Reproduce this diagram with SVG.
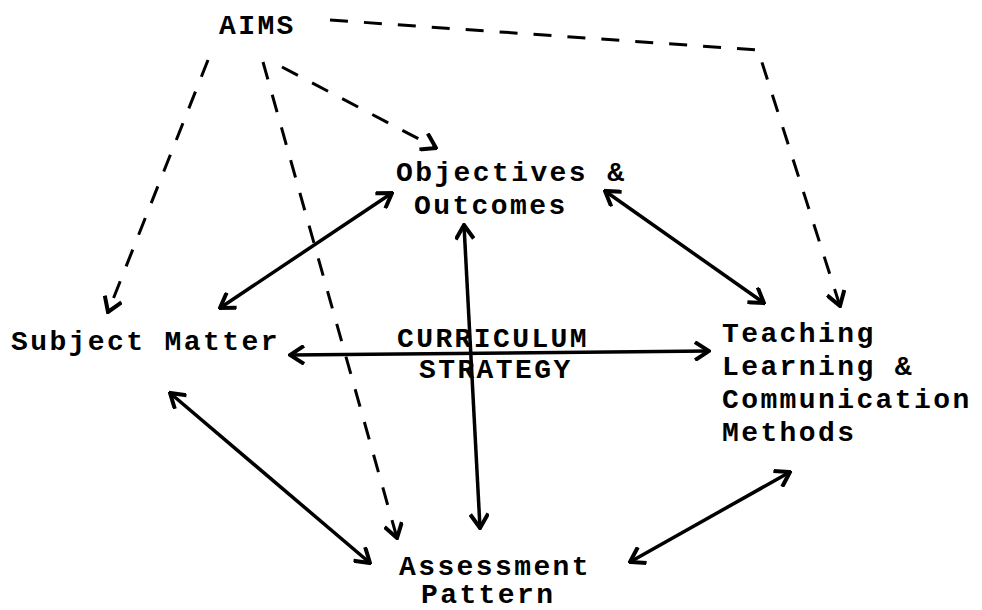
<svg xmlns="http://www.w3.org/2000/svg" width="982" height="610" viewBox="0 0 982 610">
<defs>
<style>
.lbl{font-family:"Liberation Mono","Courier New",monospace;font-weight:bold;font-size:28px;letter-spacing:2.4px;fill:#000}
.solid{stroke:#000;stroke-width:3.5;fill:none}
.dash{stroke:#000;stroke-width:3;fill:none;stroke-dasharray:18 16}
</style>
<marker id="ah" viewBox="0 0 20 20" refX="18" refY="10" markerWidth="20" markerHeight="20" markerUnits="userSpaceOnUse" orient="auto-start-reverse">
<path d="M4,1 L18,10 L4,19" fill="none" stroke="#000" stroke-width="4" stroke-linejoin="miter"/>
</marker>
</defs>
<rect width="982" height="610" fill="#fff"/>
<g id="connectors">
<line class="dash" x1="208" y1="60" x2="108" y2="312" marker-end="url(#ah)"/>
<line class="dash" x1="282" y1="67" x2="436" y2="148" marker-end="url(#ah)"/>
<line class="dash" x1="263" y1="62" x2="397" y2="538" marker-end="url(#ah)"/>
<polyline class="dash" points="330,20 758,50 840,306" marker-end="url(#ah)"/>
<line class="solid" x1="392" y1="193" x2="220" y2="308" marker-start="url(#ah)" marker-end="url(#ah)"/>
<line class="solid" x1="605" y1="191" x2="764" y2="303" marker-start="url(#ah)" marker-end="url(#ah)"/>
<line class="solid" x1="290" y1="355" x2="709" y2="351" marker-start="url(#ah)" marker-end="url(#ah)"/>
<line class="solid" x1="464" y1="225" x2="480" y2="528" marker-start="url(#ah)" marker-end="url(#ah)"/>
<line class="solid" x1="170" y1="393" x2="370" y2="563" marker-start="url(#ah)" marker-end="url(#ah)"/>
<line class="solid" x1="790" y1="472" x2="630" y2="562" marker-start="url(#ah)" marker-end="url(#ah)"/>
</g>
<g id="aims"><text class="lbl" x="219" y="34">AIMS</text></g>
<g id="objectives"><text class="lbl" x="396" y="181">Objectives &amp;</text><text class="lbl" x="414" y="214">Outcomes</text></g>
<g id="subject"><text class="lbl" x="11" y="350">Subject Matter</text></g>
<g id="strategy"><text class="lbl" x="397" y="347">CURRICULUM</text><text class="lbl" x="419" y="378">STRATEGY</text></g>
<g id="teaching"><text class="lbl" x="722" y="342">Teaching</text><text class="lbl" x="722" y="375">Learning &amp;</text><text class="lbl" x="722" y="408">Communication</text><text class="lbl" x="722" y="441">Methods</text></g>
<g id="assessment"><text class="lbl" x="399" y="575">Assessment</text><text class="lbl" x="421" y="603">Pattern</text></g>
</svg>
